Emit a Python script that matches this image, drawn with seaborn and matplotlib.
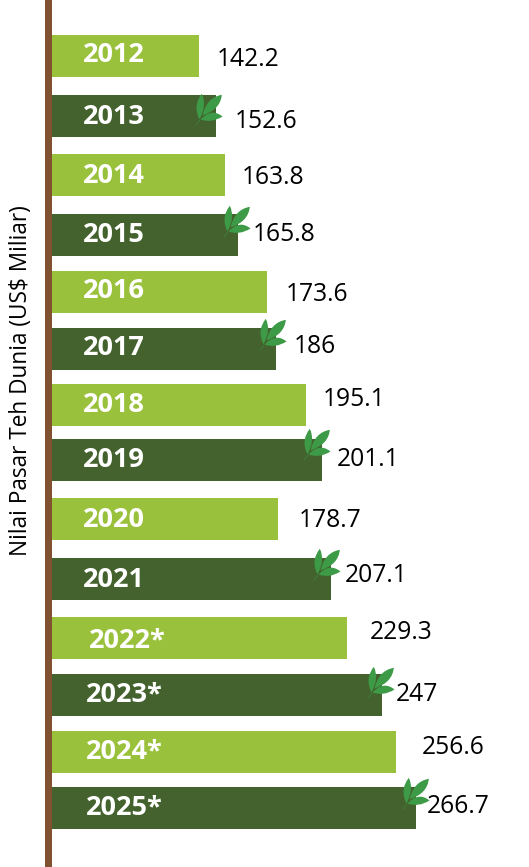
import matplotlib
matplotlib.use("Agg")
import matplotlib.pyplot as plt
from matplotlib.path import Path
import pandas as pd
import seaborn as sns

# Chart data
years = ["2012", "2013", "2014", "2015", "2016", "2017", "2018", "2019",
         "2020", "2021", "2022*", "2023*", "2024*", "2025*"]
values = ["142.2", "152.6", "163.8", "165.8", "173.6", "186", "195.1", "201.1",
          "178.7", "207.1", "229.3", "247", "256.6", "266.7"]
# the bars in the source are hand drawn, their lengths do not quite follow the labels
drawn_values = [142.2, 151.7, 157.1, 164.5, 181.1, 186.3, 203.5, 212.6,
                187.2, 217.8, 226.9, 247.0, 255.0, 266.7]
rows = [56, 116, 175, 235, 292, 349, 405, 460, 519, 579, 638, 695, 752, 808]
shades = ["light", "dark"] * 7

# Label nudges in pixels
value_gap = [18, 19.5, 17, 15, 19, 18, 17, 15, 21.5, 14, 23, 14, 26, 10.5]
value_dy = [3.5, 5.5, 2.5, -0.5, 2.5, -2.5, -5.5, -0.5, 1.5, -3.5, -5.5, -0.5, -4.5, -1.5]
year_x = [32, 32, 32, 32, 32, 32, 32, 32, 32, 32, 38, 35, 35, 35]
year_dy = [-1, 1, 1, 0, -1, -1, 0, 0, 1, 1, 3, 0, 0, 0]
leaf_dx = [-8, -2, -4, -6, -5, -2, -1]
leaf_dy = [-7.5, -14, -15, -16, -15, -13, -15]

LIGHT = "#9AC13C"
DARK = "#44622E"
LEAF = "#3D9A46"
BROWN = "#80522F"
PX = 72 / 100


def leaf_marker():
    # three leaves and a stem, drawn around the origin in pixels
    m, c, l, z = Path.MOVETO, Path.CURVE3, Path.LINETO, Path.CLOSEPOLY
    verts = [
        (-9, -10), (-16, 4), (-6.7, 15.7), (-1, 5), (-9, -10), (-9, -10),
        (-6, -6), (-2, 12), (13.3, 14.7), (12, 0), (-6, -6), (-6, -6),
        (-8, -10), (3, 2), (14, -7), (3, -14), (-8, -10), (-8, -10),
        (-8.5, -10), (-13, -16), (-12.5, -16), (-7.5, -9.5), (-8.5, -10),
    ]
    codes = [m, c, c, c, c, z] * 3 + [m, l, l, l, z]
    return Path(verts, codes)


def draw_chart():
    df = pd.DataFrame({"row": rows, "drawn": drawn_values, "shade": shades})

    fig = plt.figure(figsize=(5.29, 8.67), dpi=100)
    # axes start at the bar baseline, x scale is 1.747 px per unit from 57.5
    ax = fig.add_axes([51 / 529, 0, 478 / 529, 1])

    sns.barplot(data=df, x="drawn", y="row", hue="shade", orient="y", native_scale=True,
                palette={"light": LIGHT, "dark": DARK}, dodge=False, width=42 / 55,
                saturation=1, legend=False, ax=ax)

    ax.set_xlim(57.5, 57.5 + 478 / 1.747)
    ax.set_ylim(867, 0)
    ax.set_xticks([])
    ax.set_yticks([])
    ax.set_xlabel("")
    ax.set_ylabel("")

    for side in ["top", "right", "bottom"]:
        ax.spines[side].set_visible(False)
    ax.spines["left"].set_color(BROWN)
    ax.spines["left"].set_linewidth(7 * PX)
    ax.spines["left"].set_position(("outward", 3.5 * PX))

    for i in range(len(years)):
        ax.annotate(years[i], xy=(0, rows[i]), xycoords=ax.get_yaxis_transform(),
                    xytext=(year_x[i] * PX, -year_dy[i] * PX), textcoords="offset points",
                    color="white", fontsize=19.5, fontweight="bold", family="Open Sans",
                    ha="left", va="center")
        ax.annotate(values[i], xy=(drawn_values[i], rows[i]),
                    xytext=(value_gap[i] * PX, -value_dy[i] * PX), textcoords="offset points",
                    color="black", fontsize=17.7, family="Open Sans", ha="left", va="center",
                    zorder=5)

    # leaves sit on the end of every dark bar
    marker = leaf_marker()
    dark_rows = [i for i in range(len(years)) if shades[i] == "dark"]
    for n, i in enumerate(dark_rows):
        x = drawn_values[i] + leaf_dx[n] / 1.747
        ax.plot([x], [rows[i] + leaf_dy[n]], marker=marker, markersize=16 * 2 * PX,
                color=LEAF, markeredgewidth=0, linestyle="none", zorder=4)

    fig.text(21 / 529, 1 - 381 / 867, "Nilai Pasar Teh Dunia (US$ Miliar)", rotation=90,
             fontsize=16.3, family="Open Sans", ha="center", va="center", color="black")

    fig.savefig("out.png", dpi=100)


if __name__ == "__main__":
    draw_chart()
